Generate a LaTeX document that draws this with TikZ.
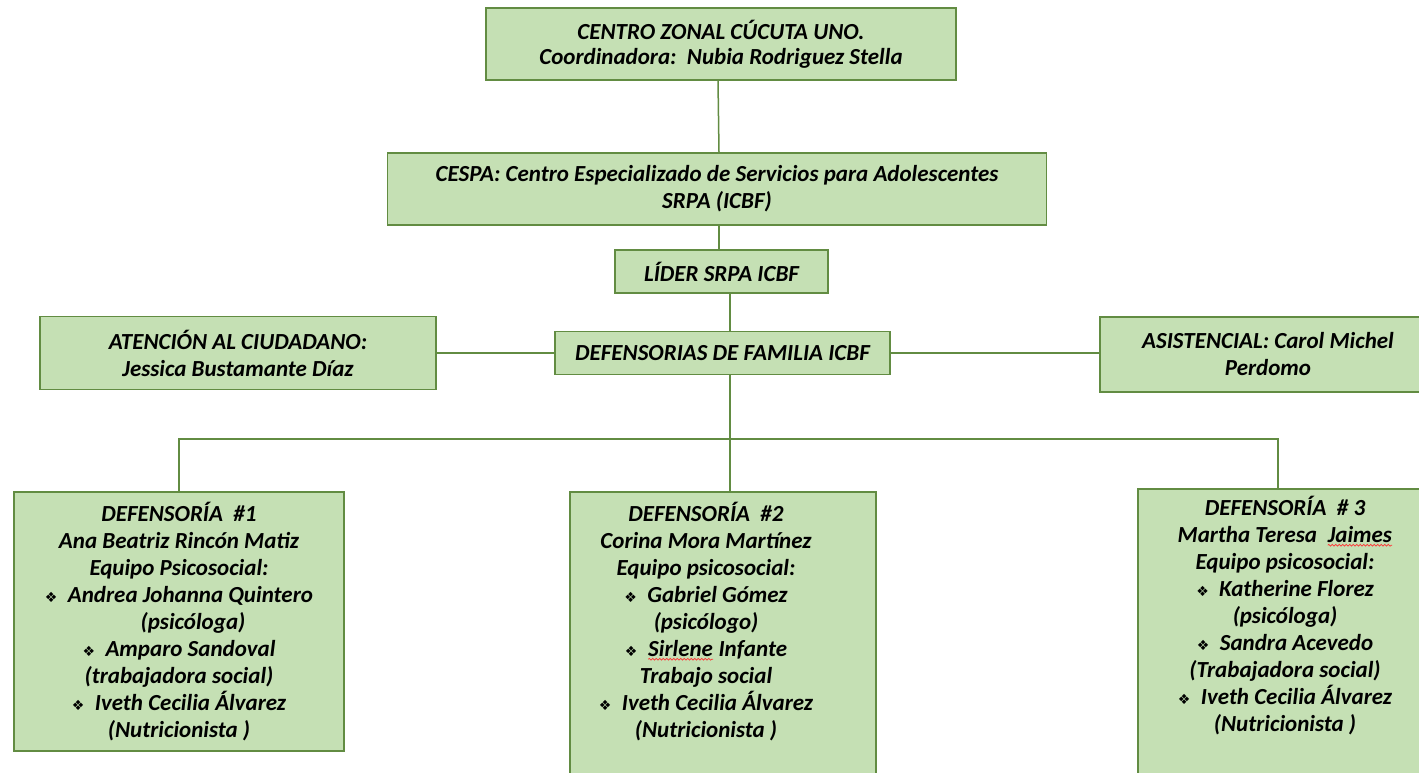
\documentclass[tikz,border=0pt]{standalone}
\usepackage{fontspec}
\setmainfont{Carlito}
\newfontfamily\symfont{DejaVu Sans}
\usepackage{tikz}
\usetikzlibrary{positioning}
\usetikzlibrary{calc}
\usetikzlibrary{decorations.pathmorphing}

\definecolor{boxfill}{RGB}{197,224,180}
\definecolor{boxline}{RGB}{98,140,66}

\newcommand{\bul}{{\symfont\fontsize{14}{14}\selectfont\char"2756}\ \ }
\newcommand{\squig}[1]{\tikz[baseline=(sq.base)]{\node[inner sep=0pt, outer sep=0pt] (sq) {#1};
		\draw[red!80, line width=0.7pt, decorate, decoration={snake, amplitude=0.9pt, segment length=3.5pt}]
		([yshift=-3pt]sq.south west) -- ([yshift=-3pt]sq.south east);}}

\tikzset{
	unit/.style={draw=boxline, fill=boxfill, line width=1.5pt, inner sep=0pt, align=center,
		font=\bfseries\itshape\fontsize{23}{27}\selectfont},
	link/.style={draw=boxline, line width=1.5pt}
}

\begin{document}
\begin{tikzpicture}[x=1pt, y=-1pt]
		\useasboundingbox (0,0) rectangle (1419,772);
		\node[unit, minimum width=470pt, minimum height=72pt, font=\bfseries\itshape\fontsize{23}{25}\selectfont] (zonal) at (721,44)
			{CENTRO ZONAL CÚCUTA UNO.\\ Coordinadora:\ \ Nubia Rodriguez Stella};
		\node[unit, minimum width=659pt, minimum height=72pt] (cespa) at (717,189)
			{CESPA: Centro Especializado de Servicios para Adolescentes\\ SRPA (ICBF)};
		\node[unit, minimum width=213pt, minimum height=43pt] (lider) at (721.5,271.5)
			{LÍDER SRPA ICBF};
		\node[unit, minimum width=335pt, minimum height=43pt] (familia) at (722.5,353)
			{DEFENSORIAS DE FAMILIA ICBF};
		\node[unit, minimum width=396pt, minimum height=73pt] (atencion) at (238,353)
			{ATENCIÓN AL CIUDADANO:\\ Jessica Bustamante Díaz};
		\node[unit, minimum width=336pt, minimum height=75pt] (asistencial) at (1268,354.5)
			{ASISTENCIAL: Carol Michel\\ Perdomo};
		% defensorias
		\node[unit, anchor=north] (def1) at (179,491) {\parbox[c][259pt][t]{330pt}{\centering
			\vspace*{10pt}DEFENSORÍA\ \ \#1\\ Ana Beatriz Rincón Matiz\\ Equipo Psicosocial:\\
			\bul Andrea Johanna Quintero\\ \hspace*{28pt}(psicóloga)\\ \bul Amparo Sandoval\\
			(trabajadora social)\\ \bul Iveth Cecilia Álvarez\\ (Nutricionista )}};
		\node[unit, anchor=north] (def2) at (723,491) {\parbox[c][320pt][t]{306pt}{\centering
			\rightskip=34pt plus 1fil
			\vspace*{10pt}DEFENSORÍA\ \ \#2\\ Corina Mora Martínez\\ Equipo psicosocial:\\
			\bul Gabriel Gómez\\ (psicólogo)\\ \bul \squig{Sirlene} Infante\\
			Trabajo social\\ \bul Iveth Cecilia Álvarez\\ (Nutricionista )}};
		\node[unit, anchor=north] (def3) at (1285,488) {\parbox[c][320pt][t]{294pt}{\centering
			\vspace*{7pt}DEFENSORÍA\ \ \# 3\\ Martha Teresa\ \ \squig{Jaimes}\\ Equipo psicosocial:\\
			\bul Katherine Florez\\ (psicóloga)\\ \bul Sandra Acevedo\\
			(Trabajadora social)\\ \bul Iveth Cecilia Álvarez\\ (Nutricionista )}};
		\coordinate (bus) at (730,439);
		% connectors
		\draw[link] ([xshift=-3pt]zonal.south) -- ([xshift=2pt]cespa.north);
		\draw[link] ([xshift=2pt]cespa.south) -- ([xshift=-2.5pt]lider.north);
		\draw[link] ([xshift=8.5pt]lider.south) -- ([xshift=7.5pt]familia.north);
		\draw[link] (atencion.east |- familia.west) -- (familia.west);
		\draw[link] (familia.east) -- (familia.east -| asistencial.west);
		\draw[link] ([xshift=7.5pt]familia.south) -- (bus);
		\draw[link] (def1.north) |- (bus) -| ([xshift=-7pt]def3.north);
		\draw[link] (bus) -- ([xshift=7pt]def2.north);
	\end{tikzpicture}
\end{document}
